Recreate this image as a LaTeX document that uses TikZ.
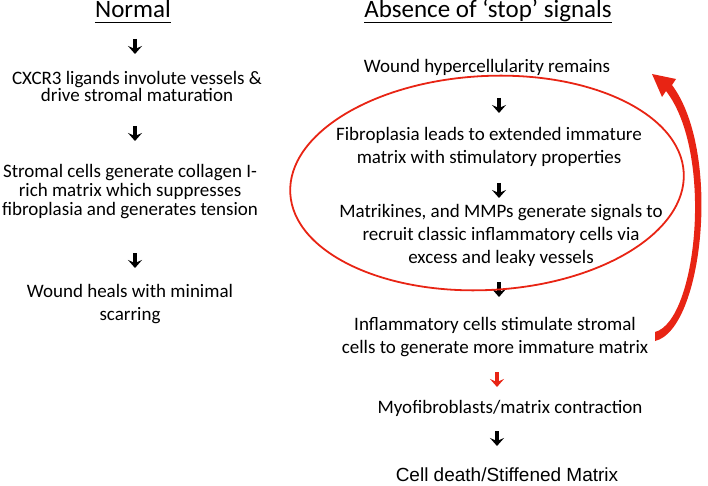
\documentclass[tikz,border=0pt]{standalone}
\usepackage{fontspec}
\setmainfont{Carlito}
\newfontfamily\arialfont{Liberation Sans}
\usetikzlibrary{arrows.meta}
\definecolor{loopred}{RGB}{232,36,20}
\tikzset{
	txt/.style={font=\fontsize{19}{23}\selectfont,align=center,inner sep=0pt},
	ttl/.style={font=\fontsize{25}{30}\selectfont,inner sep=0pt,anchor=base},
	downarr/.style={line width=3.5pt,-{Stealth[length=8pt,width=14pt,inset=3pt]}}
}

\begin{document}
\begin{tikzpicture}[x=1pt,y=-1pt]
	\useasboundingbox (0,0) rectangle (708,486);
	% titles
	\node[ttl] (norm) at (133,18) {Normal};
	\node[ttl] (stop) at (488,18) {Absence of ‘stop’ signals};
	\draw[line width=1.1pt] ([yshift=-4.5pt]norm.base west) -- ([yshift=-4.5pt]norm.base east);
	\draw[line width=1.1pt] ([yshift=-4.5pt]stop.base west) -- ([yshift=-4.5pt]stop.base east);
	% left column
	\node[txt,font=\fontsize{19}{17.5}\selectfont] (cxcr) at (137,86.5) {CXCR3 ligands involute vessels \&\\drive stromal maturation};
	\node[txt,font=\fontsize{19}{19}\selectfont] (strom) at (130,192) {Stromal cells generate collagen I-\\rich matrix which suppresses\\fibroplasia and generates tension};
	\node[txt] (heal) at (130,304.5) {Wound heals with minimal\\scarring};
	% right column
	\node[txt] (hyper) at (487,67) {Wound hypercellularity remains};
	\node[txt] (fibro) at (489,146.5) {Fibroplasia leads to extended immature\\matrix with stimulatory properties};
	\node[txt] (matri) at (501,235) {Matrikines, and MMPs generate signals to\\recruit classic inflammatory cells via\\excess and leaky vessels};
	\node[txt] (infl) at (495,337) {Inflammatory cells stimulate stromal\\cells to generate more immature matrix};
	\node[txt] (myo) at (510,408) {Myofibroblasts/matrix contraction};
	\node[txt,font=\fontsize{19}{23}\arialfont] (death) at (507,475) {Cell death/Stiffened Matrix};
	% small arrows
	\coordinate (l1) at (135,39);  \coordinate (l1e) at (135,54);
	\coordinate (l2) at (135,126); \coordinate (l2e) at (135,141);
	\coordinate (l3) at (135,253); \coordinate (l3e) at (135,268);
	\coordinate (r1) at (499,98);  \coordinate (r1e) at (499,113);
	\coordinate (r2) at (499,183); \coordinate (r2e) at (499,198);
	\coordinate (r3) at (499,282); \coordinate (r3e) at (499,297);
	\coordinate (r4) at (497,372); \coordinate (r4e) at (497,387);
	\coordinate (r5) at (497,431); \coordinate (r5e) at (497,446);
	\draw[downarr] (l1) -- (l1e);
	\draw[downarr] (l2) -- (l2e);
	\draw[downarr] (l3) -- (l3e);
	\draw[downarr] (r1) -- (r1e);
	\draw[downarr] (r2) -- (r2e);
	\draw[downarr] (r3) -- (r3e);
	\draw[downarr,loopred] (r4) -- (r4e);
	\draw[downarr] (r5) -- (r5e);
	% loop round the middle steps
	\draw[loopred,line width=1.8pt,rotate around={3:(487,183)}] (487,183) ellipse [x radius=197,y radius=107];
	% feedback arrow
	\fill[loopred] (655,341) .. controls (703,330) and (722,152) .. (672,85)
		-- (676,79) -- (652,74) -- (662,97) -- (666,91)
		.. controls (714,153) and (697,321) .. (655,332) -- cycle;
\end{tikzpicture}
\end{document}
